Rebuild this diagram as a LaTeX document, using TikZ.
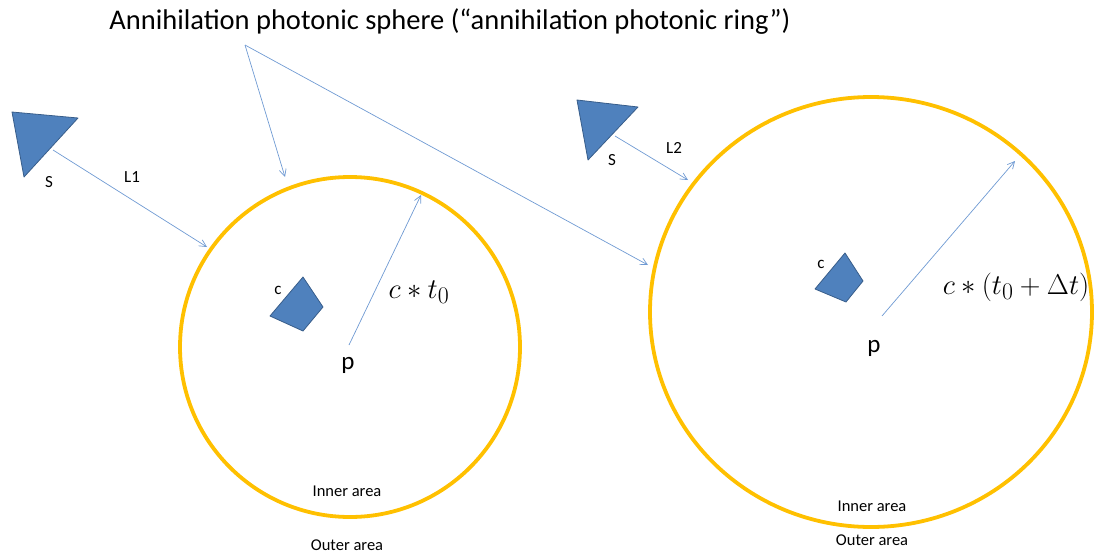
\documentclass[tikz,border=0pt]{standalone}
\usepackage{fontspec}
\setmainfont{Carlito}
\usetikzlibrary{arrows.meta}
\definecolor{ring}{HTML}{FFC000}
\definecolor{shapefill}{HTML}{4F81BD}
\definecolor{shapeedge}{HTML}{385D8A}
\definecolor{lineblue}{HTML}{6F9AD3}
\tikzset{
  ringline/.style={draw=ring,line width=3.8pt},
  blueshape/.style={fill=shapefill,draw=shapeedge,line width=0.8pt,line join=round},
  conn/.style={draw=lineblue,line width=0.7pt,-{Straight Barb[length=7pt,width=7pt,line width=0.7pt]}},
  smalllbl/.style={font=\fontsize{17}{20}\selectfont,inner sep=0pt},
  arealbl/.style={font=\fontsize{16.5}{19}\selectfont,inner sep=0pt},
  plbl/.style={font=\fontsize{25}{29}\selectfont,inner sep=0pt},
  mathlbl/.style={font=\fontsize{24.88}{28}\selectfont,inner sep=0pt,scale=1.15},
}
\begin{document}
\begin{tikzpicture}[x=1pt,y=-1pt]
\useasboundingbox (0,0) rectangle (1100,554);
% title
\node[font=\fontsize{28.5}{33}\selectfont,inner sep=0pt] (title) at (450,22) {Annihilation photonic sphere (“annihilation photonic ring”)};
\coordinate (tsrc) at (245,45);
% circles
\draw[ringline] (350,347) circle[radius=170];
\draw[ringline] (871,312) ellipse[x radius=221,y radius=215];
\coordinate (lc1) at (285,177);
\coordinate (rc1) at (648,265);
\draw[conn] (tsrc) -- (lc1);
\draw[conn] (tsrc) -- (rc1);
% sources
\draw[blueshape] (12,112) -- (78,118) -- (24,177) -- cycle;
\node[smalllbl] (s1) at (49,182) {S};
\coordinate (s1out) at (53,150);
\coordinate (l1end) at (207,247);
\draw[conn] (s1out) -- (l1end);
\node[smalllbl] (L1) at (132,177) {L1};
\draw[blueshape] (577,100) -- (638,107) -- (588,160) -- cycle;
\node[smalllbl] (s2) at (612,160) {S};
\coordinate (s2out) at (615,136);
\coordinate (l2end) at (688,180);
\draw[conn] (s2out) -- (l2end);
\node[smalllbl] (L2) at (674,148) {L2};
% c shapes
\draw[blueshape] (303,277) -- (323,307) -- (303,331) -- (270,316) -- cycle;
\node[smalllbl] (c1) at (278,290) {c};
\draw[blueshape] (845,253) -- (863,281) -- (846,302) -- (815,289) -- cycle;
\node[smalllbl] (c2) at (821,264) {c};
% radii
\coordinate (p1a) at (349,345);
\coordinate (p1b) at (421,195);
\draw[conn] (p1a) -- (p1b);
\node[mathlbl] (ct1) at (419,292) {$c*t_0$};
\node[plbl] (p1) at (348,365) {p};
\coordinate (p2a) at (882,316);
\coordinate (p2b) at (1015,161);
\draw[conn] (p2a) -- (p2b);
\node[mathlbl] (ct2) at (1016,287) {$c*(t_0+\Delta t)$};
\node[plbl] (p2) at (874,348) {p};
% area labels
\node[arealbl] (in1) at (347,491) {Inner area};
\node[arealbl] (out1) at (347,545) {Outer area};
\node[arealbl] (in2) at (872,506) {Inner area};
\node[arealbl] (out2) at (872,540) {Outer area};
\end{tikzpicture}
\end{document}
